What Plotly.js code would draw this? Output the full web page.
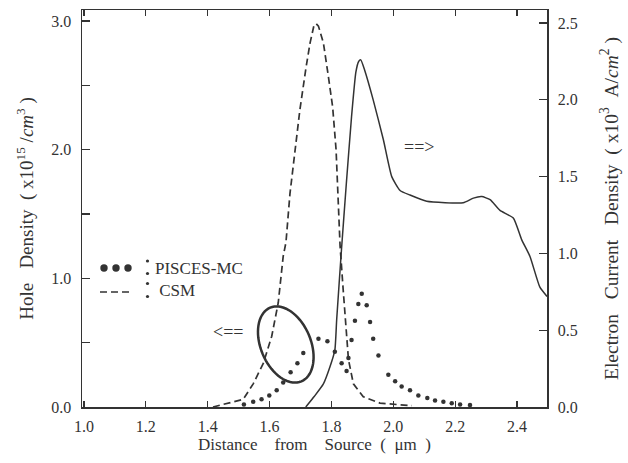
<!DOCTYPE html>
<html>
<head>
<meta charset="utf-8">
<script src="https://cdn.plot.ly/plotly-3.0.1.min.js"></script>
<style>html,body{margin:0;padding:0;background:#fff;}#chart{width:628px;height:463px;}</style>
</head>
<body>
<div id="chart"></div>
<script>
// Electron current density (right axis, x10^3 A/cm^2)
const solidX = [1.717,1.745,1.774,1.795,1.811,1.817,1.833,1.848,1.865,1.879,1.888,1.895,1.908,1.935,1.968,1.995,2.022,2.054,2.108,2.226,2.259,2.286,2.313,2.345,2.388,2.415,2.442,2.474,2.497];
const solidY = [0.00,0.07,0.15,0.26,0.37,0.57,1.04,1.45,1.89,2.18,2.25,2.26,2.19,2.00,1.74,1.50,1.41,1.38,1.34,1.33,1.36,1.37,1.35,1.28,1.23,1.09,0.98,0.78,0.72];

// CSM hole density (left axis)
const csmX = [1.417,1.450,1.484,1.515,1.547,1.580,1.607,1.628,1.644,1.653,1.666,1.682,1.698,1.718,1.731,1.743,1.750,1.758,1.774,1.790,1.804,1.815,1.822,1.828,1.838,1.849,1.855,1.871,1.903,1.957,2.020,2.060];
const csmY = [0.00,0.02,0.04,0.06,0.18,0.34,0.55,0.81,1.17,1.28,1.66,2.00,2.31,2.64,2.83,2.96,2.98,2.96,2.83,2.57,2.33,2.00,1.61,1.25,0.91,0.57,0.37,0.18,0.08,0.03,0.02,0.01];

// PISCES-MC hole density (left axis)
const mcX = [1.517,1.547,1.574,1.599,1.623,1.644,1.668,1.690,1.709,1.758,1.787,1.811,1.833,1.849,1.855,1.865,1.876,1.887,1.898,1.914,1.925,1.935,1.952,1.984,2.006,2.027,2.054,2.081,2.110,2.135,2.162,2.189,2.216,2.248];
const mcY = [0.02,0.04,0.06,0.09,0.13,0.19,0.27,0.34,0.42,0.53,0.51,0.43,0.34,0.28,0.38,0.52,0.67,0.80,0.88,0.79,0.66,0.53,0.40,0.25,0.20,0.16,0.13,0.09,0.07,0.05,0.04,0.03,0.02,0.015];

const xTicks = [1.0,1.2,1.4,1.6,1.8,2.0,2.2,2.4];
const yTicks = [0,1,2,3];
const y2Ticks = [0,0.5,1.0,1.5,2.0,2.5];
const seriesNames = ['PISCES-MC', 'CSM'];

const ink = '#333333';
const serif = 'Liberation Serif, Times New Roman, serif';
const xRange = [0.9935, 2.497];
const yRange = [0, 3.085];
const y2Range = [0, 2.585];
const W = 628, H = 463, M = {l:82, r:81, t:10, b:56};
const pw = W - M.l - M.r, ph = H - M.t - M.b;
const sx = pw / (xRange[1]-xRange[0]);
const sy = ph / (yRange[1]-yRange[0]);

// annotation ellipse (tilted), defined in pixel size around a data-space centre
function ellipsePath(cx, cy, a, b, deg){
  const th = deg*Math.PI/180; let p = '';
  for(let i=0;i<=72;i++){
    const t = i/72*2*Math.PI;
    const dx = a*Math.cos(t)*Math.cos(th) - b*Math.sin(t)*Math.sin(th);
    const dy = a*Math.cos(t)*Math.sin(th) + b*Math.sin(t)*Math.cos(th);
    p += (i?' L ':'M ') + (cx + dx/sx).toFixed(5) + ',' + (cy - dy/sy).toFixed(5);
  }
  return p + ' Z';
}
const px2x = p => (p - M.l)/pw;
const px2y = p => (H - M.b - p)/ph;
function dot(xp, yp, r){
  return {type:'circle', xref:'paper', yref:'paper', xsizemode:'pixel', ysizemode:'pixel',
    xanchor:px2x(xp), yanchor:px2y(yp), x0:-r, x1:r, y0:-r, y1:r, fillcolor:ink, line:{width:0}};
}

const traces = [
  {x: csmX, y: csmY, name: seriesNames[1], type:'scatter', mode:'lines', line:{color:ink, width:1.7, dash:'7px,4px'}, yaxis:'y', hoverinfo:'skip'},
  {x: mcX, y: mcY, name: seriesNames[0], type:'scatter', mode:'markers', marker:{color:ink, size:4.5}, yaxis:'y', hoverinfo:'skip'},
  {x: solidX, y: solidY, type:'scatter', mode:'lines', line:{color:ink, width:1.5, shape:'spline', smoothing:0.5}, yaxis:'y2', hoverinfo:'skip'}
];

const nb = '\u00A0';
const sp = n => nb.repeat(n);
const layout = {
  width: W, height: H, margin: M, showlegend:false,
  paper_bgcolor:'#ffffff', plot_bgcolor:'#ffffff',
  font:{family: serif, color: ink, size: 16},
  xaxis:{range:xRange, showgrid:false, zeroline:false, showline:true, linecolor:ink, linewidth:1.5, mirror:'ticks',
    ticks:'inside', ticklen:6, tickcolor:ink, tickwidth:1.2, tickvals:xTicks, tickformat:'.1f',
    tickfont:{size:16, family:serif, color:ink}, ticklabelstandoff:4,
    title:{text:'Distance'+sp(4)+'from'+sp(4)+'Source'+sp(2)+'('+sp(2)+'μm'+sp(2)+')', font:{size:17, family:serif, color:ink}, standoff:4}},
  yaxis:{range:yRange, showgrid:false, zeroline:false, showline:true, linecolor:ink, linewidth:1.5,
    ticks:'inside', ticklen:8, tickcolor:ink, tickwidth:1.2, tickvals:yTicks, tickformat:'.1f',
    minor:{dtick:0.5, ticks:'inside', ticklen:8, tickcolor:ink, tickwidth:1.2, showgrid:false},
    tickfont:{size:16, family:serif, color:ink}, ticklabelstandoff:6,
    title:{text:'Hole'+sp(3)+'Density'+sp(2)+'('+nb+'x10<sup>15</sup>'+nb+'/<i>cm</i><sup>3</sup>'+nb+')', font:{size:19, family:serif, color:ink}, standoff:12}},
  yaxis2:{range:y2Range, overlaying:'y', side:'right', showgrid:false, zeroline:false, showline:true, linecolor:ink, linewidth:1.5,
    ticks:'inside', ticklen:8, tickcolor:ink, tickwidth:1.2, tickvals:y2Ticks, tickformat:'.1f',
    tickfont:{size:16, family:serif, color:ink}, ticklabelstandoff:6,
    title:{text:'Electron'+sp(3)+'Current'+sp(3)+'Density'+sp(2)+'('+nb+'x10<sup>3</sup>'+sp(2)+'A/<i>cm</i><sup>2</sup>'+nb+')', font:{size:19.5, family:serif, color:ink}, standoff:27}},
  shapes:[
    {type:'path', xref:'x', yref:'y', path: ellipsePath(1.6524, 0.4856, 40, 25, 67), line:{color:ink, width:2.5}},
    // legend symbols
    dot(104,268,3.7), dot(116,268,3.7), dot(128,268,3.7),
    {type:'line', xref:'paper', yref:'paper', x0:px2x(100), x1:px2x(133), y0:px2y(292), y1:px2y(292), line:{color:ink, width:1.7, dash:'7px,4px'}},
    // separators (two dots each)
    dot(147.5,261,1.6), dot(147.5,273.5,1.6), dot(147.5,283.5,1.6), dot(147.5,296.5,1.6)
  ],
  annotations:[
    {xref:'paper', yref:'paper', x:px2x(154), y:px2y(279), xanchor:'left', yanchor:'middle', align:'left',
     text: seriesNames[0] + '<br>' + nb + seriesNames[1], showarrow:false, borderpad:0, font:{size:17, family:serif, color:ink}},
    {xref:'x', yref:'y', x:1.466, y:0.585, text:'&lt;==', showarrow:false, font:{size:18, family:serif, color:ink}},
    {xref:'x', yref:'y', x:2.083, y:2.02, text:'==&gt;', showarrow:false, font:{size:18, family:serif, color:ink}}
  ]
};

Plotly.newPlot('chart', traces, layout, {staticPlot:true, displayModeBar:false});
</script>
</body>
</html>
